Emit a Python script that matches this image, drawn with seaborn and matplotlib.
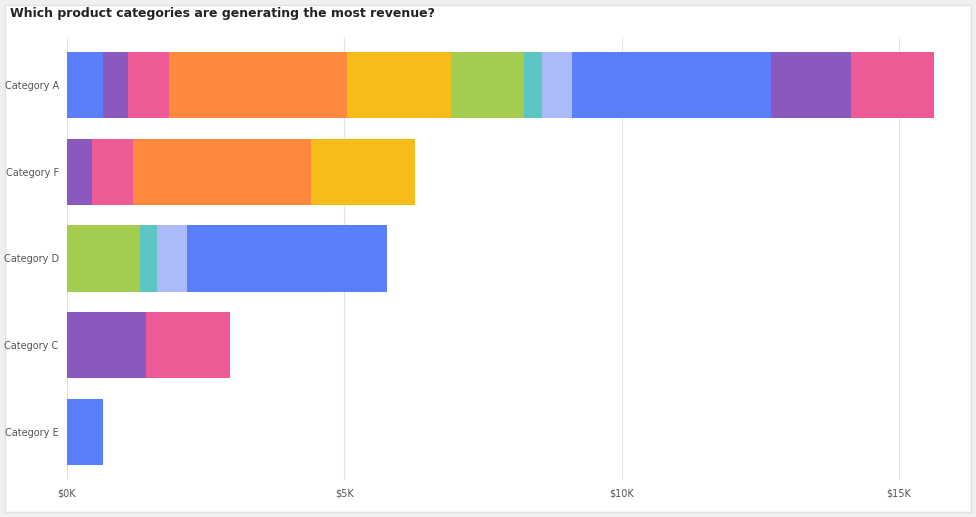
import matplotlib
matplotlib.use("Agg")
import matplotlib.pyplot as plt
import seaborn as sns
from matplotlib.patches import FancyBboxPatch

categories = ["Category A", "Category F", "Category D", "Category C", "Category E"]
# segment values (in $K) and colour keys per category, left to right
seg_values = [
    [0.65, 0.45, 0.74, 3.21, 1.87, 1.32, 0.32, 0.54, 3.59, 1.44, 1.51],
    [0.45, 0.74, 3.21, 1.87],
    [1.32, 0.31, 0.54, 3.60],
    [1.42, 1.51],
    [0.65],
]
seg_keys = [
    ["blue", "purple", "pink", "orange", "yellow", "green", "teal", "lblue", "blue", "purple", "pink"],
    ["purple", "pink", "orange", "yellow"],
    ["green", "teal", "lblue", "blue"],
    ["purple", "pink"],
    ["blue"],
]
palette = {"blue": "#5B7FFA", "purple": "#8A58BE", "pink": "#EE5A96", "orange": "#FF8A3D",
           "yellow": "#F5BC1A", "green": "#A4CC4E", "teal": "#5EC6C2", "lblue": "#ABBAFB"}
xticks = [0, 5, 10, 15]
xticklabels = ["$0K", "$5K", "$10K", "$15K"]

sns.set_theme(style="white")
plt.rcParams['font.family'] = ['Segoe UI', 'DejaVu Sans']
fig = plt.figure(figsize=(9.76, 5.17), dpi=100)
fig.patch.set_facecolor("#F0F0F0")
card = FancyBboxPatch((5/976, 5/517), 966/976, 507/517, boxstyle="square,pad=0",
                      transform=fig.transFigure, facecolor="white",
                      edgecolor="#E1E1E1", linewidth=1, zorder=-5)
fig.patches.append(card)
ax = fig.add_axes([67/976, 37/517, (950-67)/976, (480-37)/517])
ax.set_zorder(1)
ax.set_facecolor("none")
for i, (vals, keys) in enumerate(zip(seg_values, seg_keys)):
    left = 0
    for v, k in zip(vals, keys):
        ax.barh(i, v, left=left, height=0.76, color=palette[k], linewidth=0, zorder=2)
        left += v
ax.set_yticks(range(len(categories)))
ax.set_yticklabels(categories)
ax.set_ylim(len(categories) - 0.5 + 0.05, -0.5 - 0.05)
ax.set_xlim(0, 15.92)
ax.set_xticks(xticks)
ax.set_xticklabels(xticklabels)
ax.xaxis.grid(True, color="#E3E3EA", linewidth=0.8, zorder=0)
ax.tick_params(axis="both", length=0, labelsize=7, labelcolor="#555555", pad=6)
for s in ax.spines.values():
    s.set_visible(False)
fig.text(10/976, 1 - 14/517, "Which product categories are generating the most revenue?",
         fontsize=9, color="#252423", va="center", ha="left", fontweight="semibold")
fig.savefig("out.png", dpi=100, facecolor=fig.get_facecolor())
